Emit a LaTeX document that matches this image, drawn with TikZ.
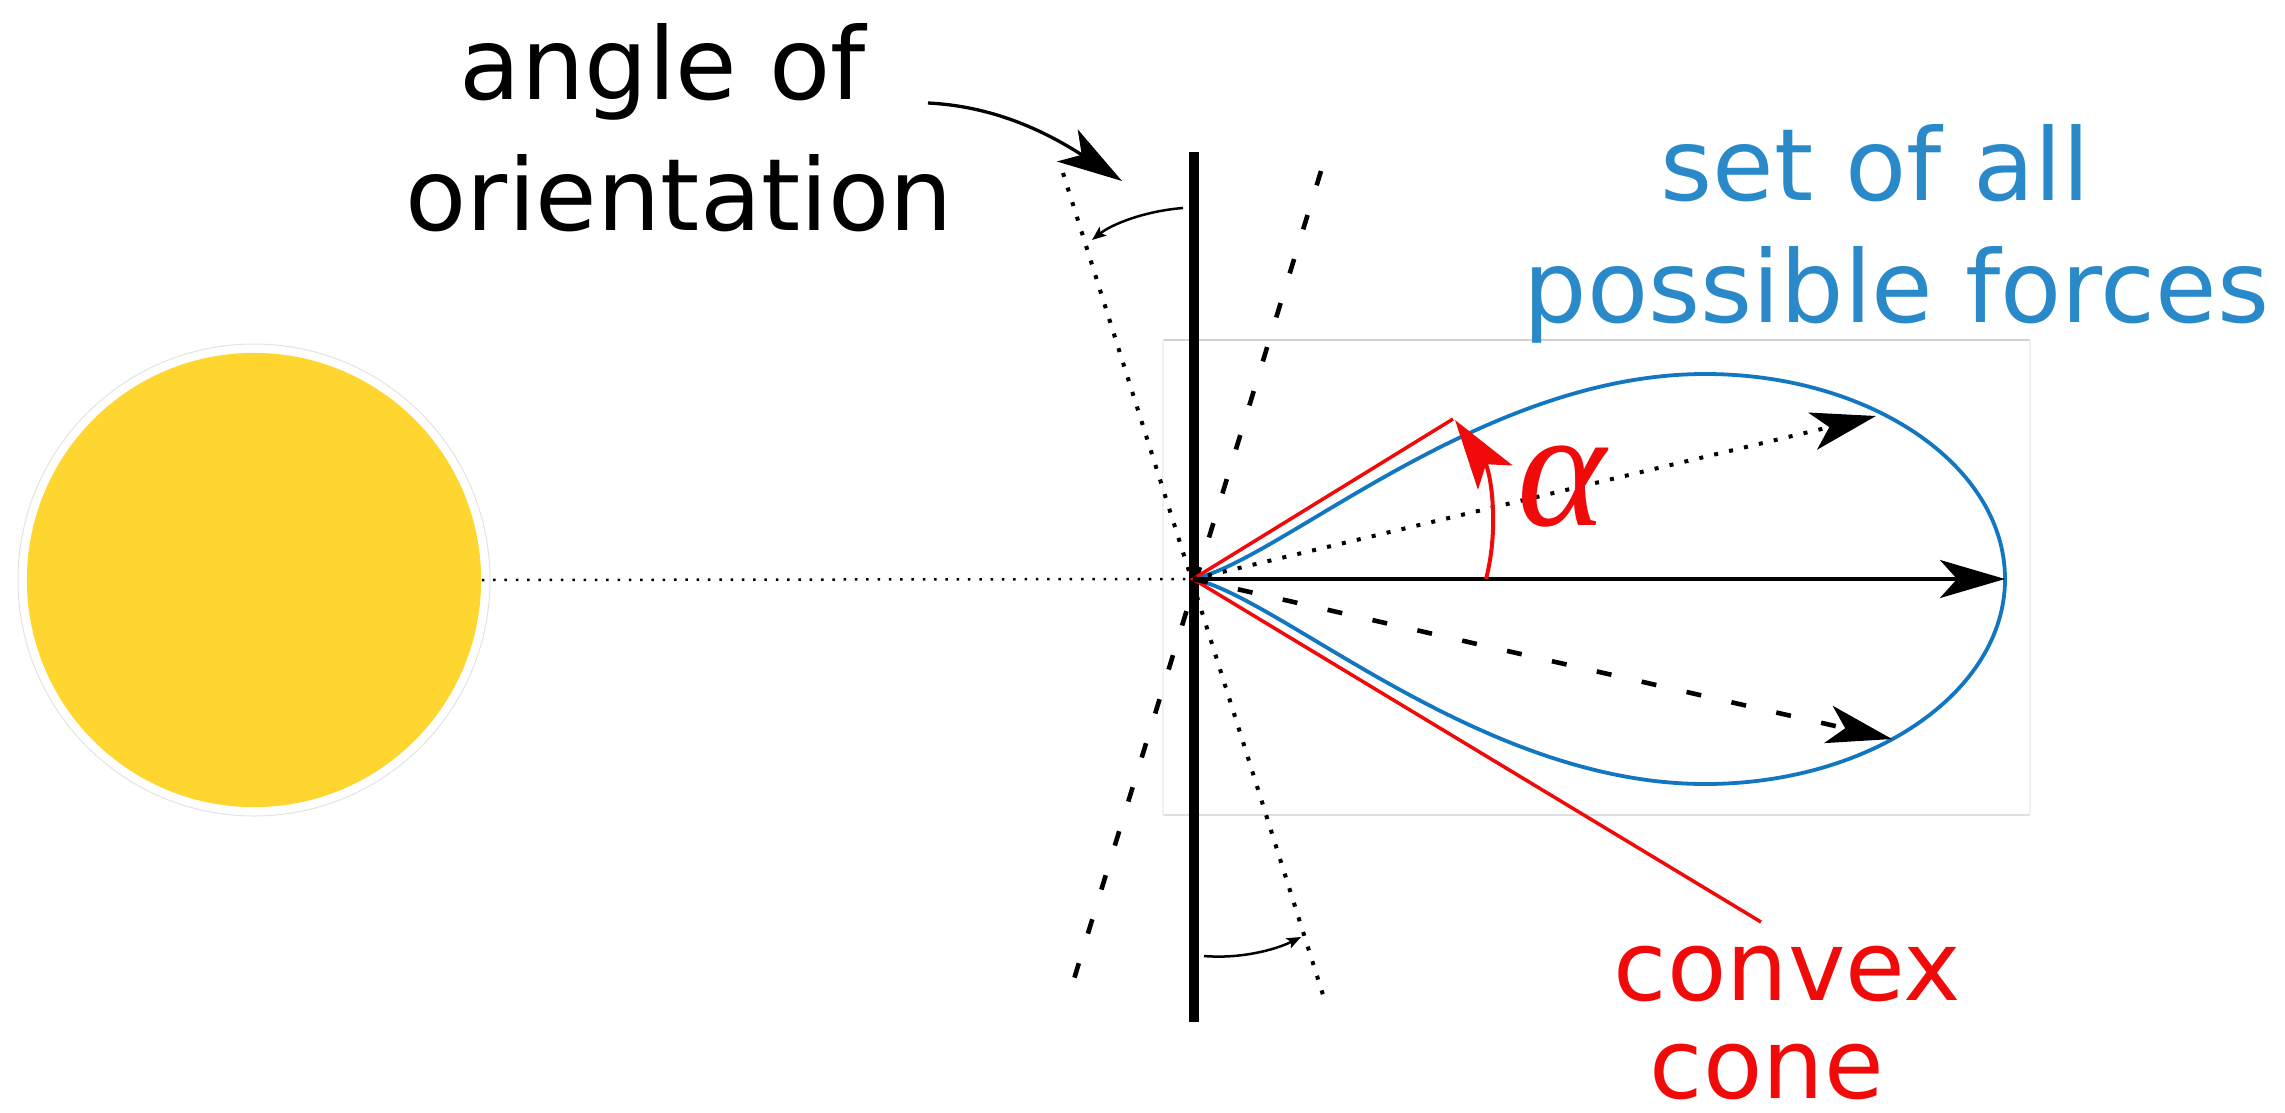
\documentclass[tikz,border=0pt]{standalone}
\usepackage{fontspec}
\setmainfont{DejaVu Sans}
\newfontfamily\alphafont{Liberation Serif}
\usetikzlibrary{arrows.meta}
\definecolor{sunyellow}{RGB}{255,213,48}
\definecolor{curveblue}{RGB}{18,118,192}
\definecolor{textblue}{RGB}{42,137,200}
\definecolor{conered}{RGB}{240,10,10}
\begin{document}
\begin{tikzpicture}[x=0.01cm, y=-0.01cm,
  bighead/.style={-{Stealth[length=0.65cm,width=0.38cm,inset=0.17cm]}},
  redhead/.style={-{Stealth[length=0.7cm,width=0.42cm,inset=0.16cm]}},
  smallhead/.style={-{Stealth[length=0.14cm,width=0.11cm,inset=0.03cm]}},
  dotline/.style={line width=0.04cm, dash pattern=on 0.04cm off 0.113cm},
  sundot/.style={line width=0.025cm, dash pattern=on 0.025cm off 0.088cm},
  dashline/.style={line width=0.046cm, dash pattern=on 0.15cm off 0.31cm},
  txt/.style={inner sep=0pt, anchor=base west, font=\fontsize{28.45}{34}\selectfont},
  redtxt/.style={txt, text=conered, font=\fontsize{27.6}{33}\selectfont},
  bluetxt/.style={txt, text=textblue},
  frame/.style={line width=0.015cm},
]
\useasboundingbox (0,0) rectangle (2285,1112);
% faint frame of the force plot
\draw[frame, gray!35] (1163,340) -- (2030,340);
\draw[frame, gray!25] (1163,815) -- (2030,815);
\draw[frame, gray!10] (1163,340) -- (1163,815);
\draw[frame, gray!12] (2030,340) -- (2030,815);
% sun
\node[circle, fill=sunyellow, minimum size=4.54cm, inner sep=0pt] (sun) at (254,580) {};
\draw[gray!22, line width=0.01cm] (sun.center) circle[radius=236];
\coordinate (V) at (1193,579);
\draw[sundot] (sun.east) -- (V);
% sail
\coordinate (wallTop) at (1194,152);
\coordinate (wallBot) at (1194,1022);
\draw[line width=0.1cm] (wallTop) -- (wallBot);
\coordinate (dotTop) at (1063,173);
\coordinate (dotBot) at (1324,998);
\coordinate (dashTop) at (1321,171);
\coordinate (dashBot) at (1067,1002);
\draw[dotline] (dotTop) -- (dotBot);
\draw[dashline] (dashTop) -- (dashBot);
% set of all possible forces
\draw[curveblue, line width=0.038cm] (V) .. controls (1280,561) and (1480,374) .. (1705,374)
  .. controls (1871,374) and (2005,466) .. (2005,579)
  .. controls (2005,692) and (1871,784) .. (1705,784)
  .. controls (1480,784) and (1280,597) .. (V);
% convex cone
\coordinate (coneTop) at (1453,419);
\coordinate (coneBot) at (1761,922);
\draw[conered, line width=0.035cm] (coneTop) -- (V) -- (coneBot);
% force arrows
\coordinate (tipMain) at (2005,579);
\coordinate (tipDot) at (1876,416);
\coordinate (tipDash) at (1892,739);
\draw[line width=0.035cm, bighead] (V) -- (tipMain);
\draw[dotline, bighead] (V) -- (tipDot);
\draw[dashline, bighead] (V) -- (tipDash);
% angle alpha
\coordinate (arcStart) at (1486,579);
\coordinate (arcEnd) at (1455,420);
\draw[conered, line width=0.04cm, redhead] (arcStart) .. controls (1500,525) and (1490,470) .. (arcEnd);
\node[text=conered, inner sep=0pt, font=\alphafont\itshape\fontsize{48}{54}\selectfont] (alpha) at (1562,487) {α};
% orientation angle arrows
\coordinate (sa1) at (1183,208);
\coordinate (sa1e) at (1092,240);
\draw[line width=0.025cm, smallhead] (sa1) .. controls (1145,211) and (1112,224) .. (sa1e);
\coordinate (sa2) at (1204,956);
\coordinate (sa2e) at (1301,937);
\draw[line width=0.025cm, smallhead] (sa2) .. controls (1240,959) and (1275,950) .. (sa2e);
% labels
\node[txt] (t1) at (459,99) {angle of};
\node[txt] (t2) at (405,230) {orientation};
\coordinate (annEnd) at (1122,181);
\draw[line width=0.033cm, bighead] (928,103) .. controls (990,106) and (1042,129) .. (annEnd);
\node[bluetxt] (t3) at (1660,200) {set of all};
\node[bluetxt] (t4) at (1523,322) {possible forces};
\node[redtxt] (t5) at (1613,1000) {convex};
\node[redtxt] (t6) at (1649,1098) {cone};
\end{tikzpicture}
\end{document}
